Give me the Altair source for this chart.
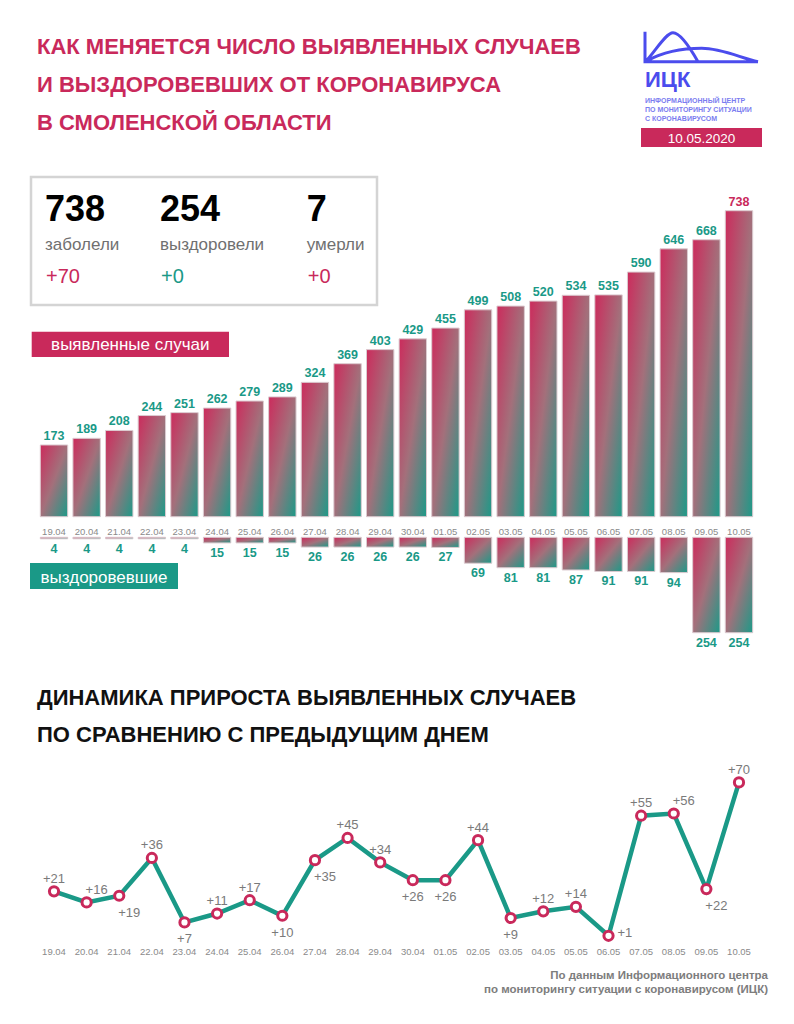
import altair as alt
import pandas as pd

# ---------------- data ----------------
dates = ["19.04", "20.04", "21.04", "22.04", "23.04", "24.04", "25.04", "26.04",
         "27.04", "28.04", "29.04", "30.04", "01.05", "02.05", "03.05", "04.05",
         "05.05", "06.05", "07.05", "08.05", "09.05", "10.05"]
cases = [173, 189, 208, 244, 251, 262, 279, 289, 324, 369, 403, 429, 455, 499,
         508, 520, 534, 535, 590, 646, 668, 738]
recovered = [4, 4, 4, 4, 4, 15, 15, 15, 26, 26, 26, 26, 27, 69, 81, 81, 87, 91,
             91, 94, 254, 254]
growth = [21, 16, 19, 36, 7, 11, 17, 10, 35, 45, 34, 26, 26, 44, 9, 12, 14, 1,
          55, 56, 22, 70]
# label placement of the daily growth values (a=above, b=below, r=right, ar/br = shifted right)
placement = ["a", "ar", "br", "a", "b", "a", "a", "b", "br", "a", "a", "b", "b",
             "a", "b", "a", "a", "r", "a", "ar", "br", "a"]

title_lines = ["КАК МЕНЯЕТСЯ ЧИСЛО ВЫЯВЛЕННЫХ СЛУЧАЕВ",
               "И ВЫЗДОРОВЕВШИХ ОТ КОРОНАВИРУСА",
               "В СМОЛЕНСКОЙ ОБЛАСТИ"]
title2_lines = ["ДИНАМИКА ПРИРОСТА ВЫЯВЛЕННЫХ СЛУЧАЕВ",
                "ПО СРАВНЕНИЮ С ПРЕДЫДУЩИМ ДНЕМ"]
logo_lines = ["ИНФОРМАЦИОННЫЙ ЦЕНТР", "ПО МОНИТОРИНГУ СИТУАЦИИ", "С КОРОНАВИРУСОМ"]
footer_lines = ["По данным Информационного центра",
                "по мониторингу ситуации с коронавирусом (ИЦК)"]
stat_values = ["738", "254", "7"]
stat_names = ["заболели", "выздоровели", "умерли"]
stat_deltas = ["+70", "+0", "+0"]
report_date = "10.05.2020"

df = pd.DataFrame({
    "date": dates,
    "cases": cases,
    "recovered": recovered,
    "growth": growth,
    "place": placement,
})
df["glabel"] = ["+" + str(g) for g in growth]
one = pd.DataFrame({"k": [0]})

# ---------------- style ----------------
CRIMSON = "#c9295b"
TEAL = "#1a9987"
GRAY = "#8a8a8a"
BLUE = "#4b4ced"
TITLE_FONT = "Liberation Sans Narrow, Liberation Sans, Arial, sans-serif"
SANS = "Liberation Sans, Arial, Helvetica, sans-serif"

W, H = 778, 1008

grad = alt.Gradient(
    gradient="linear",
    stops=[alt.GradientStop(color="#cc2b5c", offset=0),
           alt.GradientStop(color="#a3707b", offset=0.5),
           alt.GradientStop(color="#1c9a88", offset=1)],
    x1=0, y1=0, x2=1, y2=1,
)
BAR_STROKE = "#dccbd0"

x_enc = alt.X("date:N", sort=dates, axis=None,
              scale=alt.Scale(range=[29.7, 747.3], paddingInner=0.16, paddingOuter=0.08))

y_cases = alt.Y("cases:Q", axis=None,
                scale=alt.Scale(domain=[-1204.2, 1226.9], nice=False, zero=False))
y_rec = alt.Y("recovered:Q", axis=None,
              scale=alt.Scale(domain=[-1409.2, 1274.5], nice=False, zero=False, reverse=True))
y_growth = alt.Y("growth:Q", axis=None,
                 scale=alt.Scale(domain=[-35.09, 418.35], nice=False, zero=False))

base = alt.Chart(df)

layers = []

# ---- bars: detected cases ----
layers.append(base.mark_bar(color=grad, stroke=BAR_STROKE, strokeWidth=1).encode(
    x=x_enc, y=y_cases, y2=alt.datum(0)))
layers.append(base.mark_text(font=SANS, fontSize=12.5, fontWeight="bold", dy=-5,
                             baseline="alphabetic").encode(
    x=x_enc, y=y_cases, text="cases:Q",
    color=alt.condition(alt.datum.date == "10.05", alt.value(CRIMSON), alt.value(TEAL))))

# date labels under the upper bars
layers.append(base.mark_text(font=SANS, fontSize=9.5, color=GRAY).encode(
    x=x_enc, y=alt.value(523.5), text="date:N"))

# ---- bars: recovered (downwards) ----
layers.append(base.mark_bar(color=grad, stroke=BAR_STROKE, strokeWidth=1).encode(
    x=x_enc, y=y_rec, y2=alt.datum(0)))
layers.append(base.mark_text(font=SANS, fontSize=12.5, fontWeight="bold", dy=14,
                             baseline="alphabetic", color=TEAL).encode(
    x=x_enc, y=y_rec, text="recovered:Q"))

# ---- line chart: daily growth ----
layers.append(base.mark_line(color=TEAL, strokeWidth=4.5).encode(x=x_enc, y=y_growth))
layers.append(base.mark_point(shape="circle", filled=True, fill="white", stroke=CRIMSON,
                              strokeWidth=3, size=85, opacity=1).encode(x=x_enc, y=y_growth))
place_style = {
    "a": dict(dx=0, dy=-8.5, align="center"),
    "b": dict(dx=0, dy=21, align="center"),
    "ar": dict(dx=10, dy=-8.5, align="center"),
    "br": dict(dx=10, dy=21, align="center"),
    "r": dict(dx=9, dy=1, align="left"),
}
for p, st in place_style.items():
    layers.append(base.mark_text(font=SANS, fontSize=13, color="#7a7a7a",
                                 baseline="alphabetic", **st).encode(
        x=x_enc, y=y_growth, text="glabel:N").transform_filter(alt.datum.place == p))
layers.append(base.mark_text(font=SANS, fontSize=9.5, color=GRAY).encode(
    x=x_enc, y=alt.value(944.3), text="date:N"))


# ---------------- decorations ----------------
def txt(s, x, y, **kw):
    opts = dict(align="left", baseline="alphabetic", font=SANS)
    opts.update(kw)
    return alt.Chart(one).mark_text(**opts).encode(
        x=alt.value(x), y=alt.value(y), text=alt.value(s))


def box(x1, x2, y1, y2, **kw):
    return alt.Chart(one).mark_rect(**kw).encode(
        x=alt.value(x1), x2=alt.value(x2), y=alt.value(y1), y2=alt.value(y2))


# main title
for i, s in enumerate(title_lines):
    layers.append(txt(s, 29, 46 + 38 * i, font=TITLE_FONT, fontSize=22, fontWeight="bold",
                      color=CRIMSON))

# logo
logo_path = ("M -1 -0.265 L -1 0.265 L 1 0.265 "
             "M -0.965 0.235 C -0.8 0.05 -0.62 -0.25 -0.504 -0.248 "
             "C -0.38 -0.245 -0.2 0.02 -0.062 0.265 "
             "M -0.965 0.25 C -0.6 0.05 -0.25 0.028 0.004 0.028 "
             "C 0.35 0.028 0.7 0.2 1 0.265")
layers.append(alt.Chart(one).mark_point(shape=logo_path, filled=False, stroke=BLUE,
                                        strokeWidth=3, size=12769, opacity=1).encode(
    x=alt.value(693.5), y=alt.value(38.7)))
layers.append(txt("ИЦК", 637, 78.7, fontSize=22, fontWeight="bold", color=BLUE))
for i, s in enumerate(logo_lines):
    layers.append(txt(s, 637, 95.3 + 8.6 * i, fontSize=7, fontWeight="bold",
                      color="#7b7df0"))
layers.append(box(633, 754, 120, 139, color=CRIMSON))
layers.append(txt(report_date, 693.5, 134.5, align="center", fontSize=13.5,
                  color="white"))

# stats box
layers.append(box(23, 369, 169, 297, fill="white", stroke="#d4d4d4", strokeWidth=2.5))
stat_x = [37, 152, 298.7]
delta_colors = [CRIMSON, TEAL, CRIMSON]
for sx, v, n, d, c in zip(stat_x, stat_values, stat_names, stat_deltas, delta_colors):
    layers.append(txt(v, sx, 212.7, fontSize=36, fontWeight="bold", color="black"))
    layers.append(txt(n, sx, 242, fontSize=17, color="#707070"))
    layers.append(txt(d, sx + 1, 275.3, fontSize=20, color=c))

# series tags
layers.append(box(23.7, 221, 323.7, 349, color=CRIMSON))
layers.append(txt("выявленные случаи", 122.3, 342, align="center", fontSize=17,
                  color="white"))
layers.append(box(22, 170, 555, 581, color=TEAL))
layers.append(txt("выздоровевшие", 96, 574.5, align="center", fontSize=17,
                  color="white"))

# second title
for i, s in enumerate(title2_lines):
    layers.append(txt(s, 29, 697 + 37 * i, font=TITLE_FONT, fontSize=22, fontWeight="bold",
                      color="#111111"))

# footer
for i, s in enumerate(footer_lines):
    layers.append(txt(s, 760, 971 + 14 * i, align="right", fontSize=11.5,
                      fontWeight="bold", color="#7d7d7d"))

chart = alt.layer(*layers).resolve_scale(y="independent").properties(
    width=W, height=H, padding=0, autosize="none", background="white"
).configure_view(stroke=None)

chart.save("out.html", embed_options={"renderer": "svg", "actions": False})
